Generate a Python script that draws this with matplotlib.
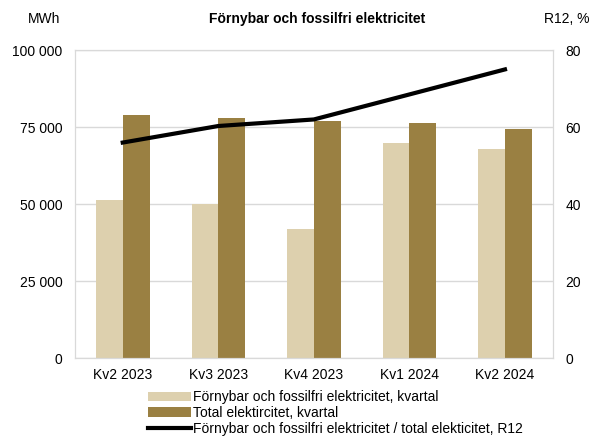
import matplotlib.pyplot as plt
import numpy as np

# data
kvartal = ["Kv2 2023", "Kv3 2023", "Kv4 2023", "Kv1 2024", "Kv2 2024"]
fornybar = [51300, 49900, 41900, 69800, 67900]
total = [78900, 77900, 77000, 76300, 74400]
andel_r12 = [56, 60.3, 62, 68.5, 75]

plt.rcParams["font.family"] = ["Liberation Sans", "DejaVu Sans"]

fig = plt.figure(figsize=(5.95, 4.4), dpi=100)
ax = fig.add_axes([0.126, 0.186, 0.803, 0.700])
ax2 = ax.twinx()

x = np.arange(len(kvartal))
w = 0.28

b1 = ax.bar(x - w / 2, fornybar, w, color="#ddd0ae",
            label="Förnybar och fossilfri elektricitet, kvartal", zorder=2)
b2 = ax.bar(x + w / 2, total, w, color="#9a8042",
            label="Total elektircitet, kvartal", zorder=2)
l1, = ax2.plot(x, andel_r12, color="black", linewidth=3,
               label="Förnybar och fossilfri elektricitet / total elekticitet, R12")

ax.set_xlim(-0.5, 4.5)
ax.set_ylim(0, 100000)
ax.set_yticks([0, 25000, 50000, 75000, 100000])
ax.set_yticklabels(["0", "25 000", "50 000", "75 000", "100 000"])
ax2.set_ylim(0, 80)
ax2.set_yticks([0, 20, 40, 60, 80])
ax.set_xticks(x)
ax.set_xticklabels(kvartal)

ax.grid(axis="y", color="#d9d9d9", linewidth=1, zorder=0)
ax.set_axisbelow(True)
for a in (ax, ax2):
    for s in a.spines.values():
        s.set_color("#d9d9d9")
    a.tick_params(length=0, labelsize=10, colors="black")
ax.tick_params(axis="y", pad=9)
ax2.tick_params(axis="y", pad=9)
ax.tick_params(axis="x", pad=7)

fig.text(0.533, 0.957, "Förnybar och fossilfri elektricitet", ha="center",
         va="center", fontsize=10, fontweight="bold")
fig.text(0.047, 0.957, "MWh", ha="left", va="center", fontsize=10)
fig.text(0.99, 0.957, "R12, %", ha="right", va="center", fontsize=10)

fig.legend(handles=[b1, b2, l1], loc="lower left",
           bbox_to_anchor=(0.233, -0.012), frameon=False, fontsize=10,
           handlelength=3.1, handletextpad=0.1, labelspacing=0.12,
           borderpad=0.2)

fig.savefig("out.png", dpi=100)
